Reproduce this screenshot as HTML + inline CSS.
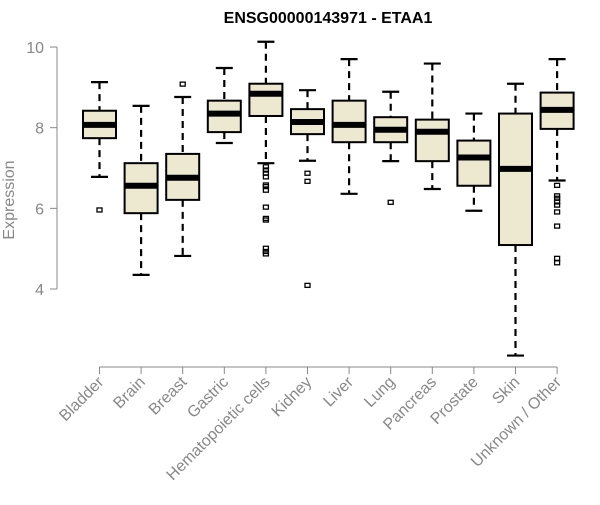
<!DOCTYPE html>
<html><head><meta charset="utf-8"><style>
body{margin:0;background:#fff}
svg text{font-family:"Liberation Sans",Arial,sans-serif}
</style></head><body>
<svg id="chart" width="600" height="500" xmlns="http://www.w3.org/2000/svg">
<text x="328" y="23" text-anchor="middle" font-weight="bold" font-size="16">ENSG00000143971 - ETAA1</text>
<text transform="translate(14,200) rotate(-90)" text-anchor="middle" font-size="16" fill="#888">Expression</text>
<g id="plot"></g>
</svg>
<script>
const categories=["Bladder","Brain","Breast","Gastric","Hematopoietic cells","Kidney","Liver","Lung","Pancreas","Prostate","Skin","Unknown / Other"];
const whiskerLow=[6.78,4.35,4.82,7.62,7.12,7.18,6.36,7.17,6.48,5.94,2.35,6.69];
const q1=[7.74,5.88,6.21,7.89,8.29,7.84,7.64,7.64,7.17,6.56,5.09,7.97];
const medians=[8.07,6.56,6.76,8.35,8.84,8.14,8.07,7.95,7.90,7.26,6.98,8.44];
const q3=[8.42,7.12,7.35,8.67,9.09,8.46,8.67,8.26,8.20,7.68,8.35,8.87];
const whiskerHigh=[9.13,8.54,8.76,9.48,10.13,8.93,9.70,8.89,9.59,8.35,9.09,9.70];
const outliers=[[5.96],[],[9.08],[],[7.03,6.95,6.87,6.78,6.58,6.54,6.45,6.03,5.75,5.71,5.01,4.93,4.87],[6.87,6.67,4.09],[],[6.15],[],[],[],[6.57,6.31,6.25,6.16,6.08,5.91,5.56,4.76,4.65]];
const yTicks=[4,6,8,10];
const NS="http://www.w3.org/2000/svg";
const g=document.getElementById('plot');
const y=v=>289-(v-4)*40.33;
const x=i=>99.5+i*41.6;
function el(t,a){const e=document.createElementNS(NS,t);for(const k in a)e.setAttribute(k,a[k]);g.appendChild(e);return e;}
let ax=el('line',{x1:57,x2:57,y1:y(yTicks[0]),y2:y(yTicks[yTicks.length-1]),stroke:'#888'});


yTicks.forEach(t=>{
 const l=el('line',{x1:50,x2:57,y1:y(t),y2:y(t),stroke:'#888'});
 
 
 const tx=el('text',{x:44,y:y(t)+6,'text-anchor':'end','font-size':16,fill:'#888'});tx.textContent=t;
 
 
});
let xa=el('line',{x1:x(0),x2:x(categories.length-1),y1:367,y2:367,stroke:'#888'});


const hw=16.5;
categories.forEach((c,i)=>{
 const cx=x(i);
 const t=el('line',{x1:cx,x2:cx,y1:367,y2:374,stroke:'#888'});
 
 
 const lb=el('text',{transform:`translate(${cx+5},${383}) rotate(-45)`,'text-anchor':'end','font-size':16,fill:'#888'});lb.textContent=c;
 
 
 const w1=el('line',{x1:cx,x2:cx,y1:y(whiskerHigh[i]),y2:y(q3[i]),stroke:'#000','stroke-width':2.2,'stroke-dasharray':'7,5'});
 
 
 const w2=el('line',{x1:cx,x2:cx,y1:y(q1[i]),y2:y(whiskerLow[i]),stroke:'#000','stroke-width':2.2,'stroke-dasharray':'7,5'});
 
 
 [whiskerHigh[i],whiskerLow[i]].forEach(v=>{
  const cap=el('line',{x1:cx-8.5,x2:cx+8.5,y1:y(v),y2:y(v),stroke:'#000','stroke-width':2.2});
  
  
 });
 const b=el('rect',{x:cx-hw,y:y(q3[i]),width:hw*2,height:y(q1[i])-y(q3[i]),fill:'#ede8d0',stroke:'#000','stroke-width':2});
 
 
 const m=el('line',{x1:cx-hw,x2:cx+hw,y1:y(medians[i]),y2:y(medians[i]),stroke:'#000','stroke-width':6});
 
 
 outliers[i].forEach(v=>{
  const o=el('rect',{x:cx-2.5,y:y(v)-2,width:5,height:4,fill:'none',stroke:'#000','stroke-width':1.3});
  
  
 });
});
</script>
</body></html>
